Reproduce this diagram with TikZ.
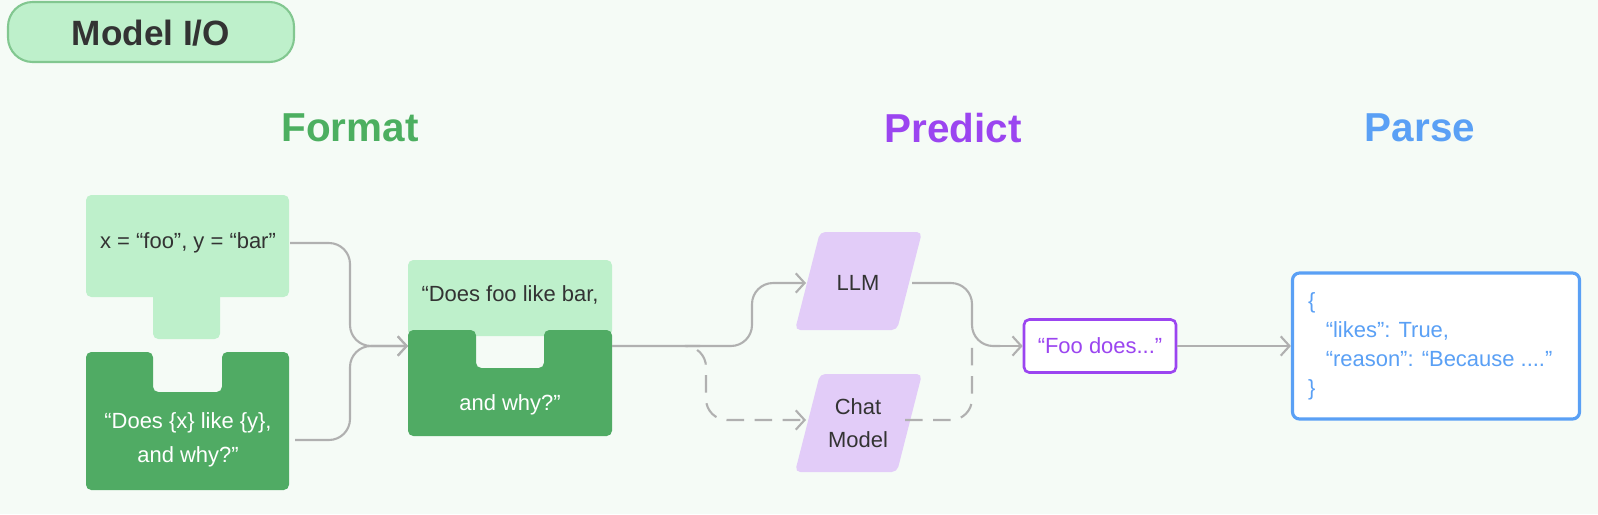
\documentclass[tikz,border=0pt]{standalone}
\usepackage{fontspec}
\setmainfont{Liberation Sans}
\usetikzlibrary{arrows.meta}
\definecolor{bgc}{HTML}{F5FBF6}
\definecolor{lgreen}{HTML}{BEF0CB}
\definecolor{dgreen}{HTML}{50AB64}
\definecolor{tgreen}{HTML}{4CAF60}
\definecolor{lpurple}{HTML}{E2CCF8}
\definecolor{tpurple}{HTML}{9B45F0}
\definecolor{tblue}{HTML}{5AA0F5}
\definecolor{wire}{HTML}{B0B0B0}
\definecolor{ink}{HTML}{333333}
\tikzset{
  txt/.style={font=\fontsize{12.5}{19}\selectfont, align=center, text=ink},
  head/.style={font=\fontsize{23}{26}\selectfont\bfseries},
  wire/.style={draw=wire, line width=1.2pt, rounded corners=12pt},
  llm/.style={fill=lpurple, rounded corners=3pt},
  >={Straight Barb[length=5pt, width=11pt]},
}
\begin{document}
\begin{tikzpicture}[x=0.02cm, y=-0.02cm]
  \fill[bgc] (0,0) rectangle (1598,514);
  \useasboundingbox (0,0) rectangle (1598,514);

  % title
  \draw[fill=lgreen, draw=tgreen!70, line width=1.2pt, rounded corners=14pt] (8,2) rectangle (294,62);
  \node (title) [font=\fontsize{20}{24}\selectfont\bfseries, text=ink] at (151,33) {Model I/O};
  \node (fmt) [head, text=tgreen] at (350,128) {Format};
  \node (pred) [head, text=tpurple] at (953,128) {Predict};
  \node (pars) [head, text=tblue] at (1420,128) {Parse};

  % inputs
  \fill[lgreen, rounded corners=3pt] (86,195) rectangle (289,297);
  \fill[lgreen, rounded corners=3pt] (153,290) rectangle (220,339);
  \fill[dgreen, rounded corners=3pt] (86,352) -- (153,352) -- (153,392) -- (222,392) -- (222,352)
    -- (289,352) -- (289,490) -- (86,490) -- cycle;
  \node (vars) [txt] at (188,243) {x = “foo”, y = “bar”};
  \node (tmpl) [txt, text=white] at (188,440) {“Does \{x\} like \{y\},\\and why?”};

  % formatted prompt
  \fill[lgreen, rounded corners=3pt] (408,260) rectangle (612,336);
  \fill[dgreen, rounded corners=3pt] (408,330) -- (476,330) -- (476,368) -- (544,368) -- (544,330)
    -- (612,330) -- (612,436) -- (408,436) -- cycle;
  \node (ptop) [txt] at (510,295) {“Does foo like bar,};
  \node (pbot) [txt, text=white] at (510,405) {and why?”};
  \coordinate (pin) at (408,346);
  \coordinate (pout) at (612,346);

  % models
  \fill[llm] (820,232) -- (922,232) -- (897,330) -- (795,330) -- cycle;
  \fill[llm] (820,374) -- (922,374) -- (897,472) -- (795,472) -- cycle;
  \node (llm) [txt] at (858,283) {LLM};
  \node (chat) [txt] at (858,423) {Chat\\Model};
  \coordinate (llmin) at (806,283);
  \coordinate (chatin) at (806,420);

  % output
  \node (foo) [draw=tpurple, fill=white, line width=1.5pt, rounded corners=3pt,
    minimum width=152*0.02cm, minimum height=53*0.02cm, txt, text=tpurple] at (1100,346) {“Foo does...”};
  \node (json) [draw=tblue, fill=white, line width=1.8pt, rounded corners=4pt,
    minimum width=287*0.02cm, minimum height=146*0.02cm] at (1436,346) {};
  \node (jtxt) [txt, text=tblue, align=left, anchor=west, font=\fontsize{12.5}{16.5}\selectfont] at (1302,346)
    {\{\\\hspace*{0.8em}“likes”: True,\\\hspace*{0.8em}“reason”: “Because ....”\\\}};

  % connectors
  \draw[wire, ->] (vars.east) ++(8,0) -- (350,243) -- (350,346) -- (pin);
  \draw[wire, ->] (295,440) -- (350,440) -- (350,346) -- (pin);
  \draw[wire, ->] (pout) -- (752,346) -- (752,283) -- (llmin);
  \draw[wire, ->, dash pattern=on 10pt off 6pt] (700,346) -- (706,346) -- (706,420) -- (chatin);
  \draw[wire] (912,283) -- (972,283) -- (972,346) -- (1000,346);
  \draw[wire, dash pattern=on 10pt off 6pt] (905,420) -- (972,420) -- (972,346);
  \draw[wire, ->] (990,346) -- (foo.west);
  \draw[wire, ->] (foo.east) -- (json.west);
\end{tikzpicture}
\end{document}
